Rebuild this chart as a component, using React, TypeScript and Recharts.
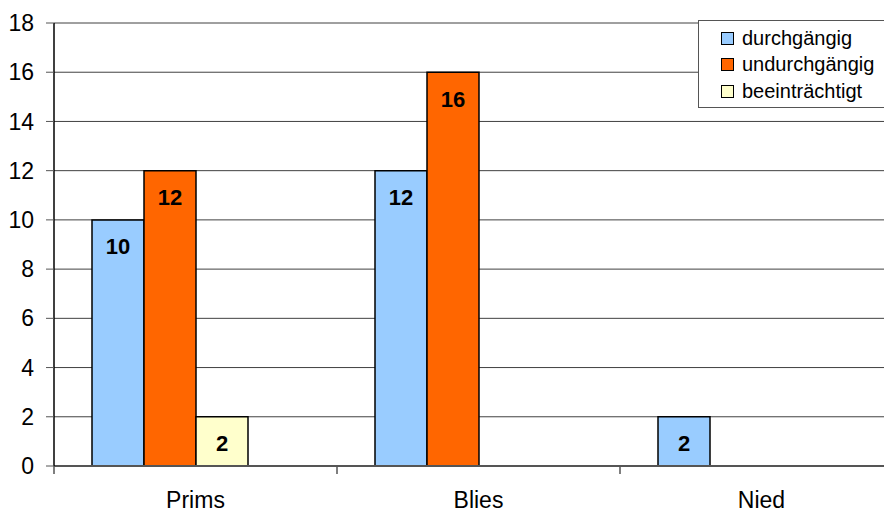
import React from "react";
import { BarChart, Bar, XAxis, YAxis, CartesianGrid, LabelList } from "recharts";

const rivers = ["Prims", "Blies", "Nied"];
const durchgaengig = [10, 12, 2];
const undurchgaengig = [12, 16, null];
const beeintraechtigt = [2, null, null];
const yTicks = [0, 2, 4, 6, 8, 10, 12, 14, 16, 18];

const data = rivers.map((name, i) => ({
  name,
  durch: durchgaengig[i],
  undurch: undurchgaengig[i],
  beein: beeintraechtigt[i],
  leer: null,
}));

const font = "'Liberation Sans', Arial, sans-serif";
const band = 283;

const ValueLabel = (props: any) => {
  const { x, y, width, value } = props;
  if (value == null) return null;
  return (
    <text x={x + width / 2} y={y + 27} textAnchor="middle" dominantBaseline="central"
      fontFamily={font} fontWeight="bold" fontSize={22} fill="#000">{value}</text>
  );
};

// tick y from recharts already includes tickSize + tickMargin (8px)
const CatTick = (props: any) => {
  const { x, y, payload } = props;
  const axisY = y - 8;
  return (
    <g>
      <line x1={x - band / 2} x2={x - band / 2} y1={axisY} y2={axisY + 8} stroke="#555" strokeWidth={1.5} />
      <text x={x} y={axisY + 34} textAnchor="middle" dominantBaseline="central"
        fontFamily={font} fontSize={23} fill="#000">{payload.value}</text>
    </g>
  );
};

const legendItems = [
  { label: "durchgängig", color: "#99CCFF" },
  { label: "undurchgängig", color: "#FF6600" },
  { label: "beeinträchtigt", color: "#FFFFCC" },
];

const LegendBox = () => (
  <div style={{ position: "absolute", left: 698, top: 20, border: "1.5px solid #555", background: "#fff", width: 194, height: 88, boxSizing: "border-box", padding: "4px 0 0 22px", fontFamily: font, fontSize: 20 }}>
    {legendItems.map((it) => (
      <div key={it.label} style={{ display: "flex", alignItems: "center", height: 26.5 }}>
        <span style={{ display: "inline-block", width: 11, height: 11, background: it.color, border: "1.5px solid #000", marginRight: 8 }} />
        <span>{it.label}</span>
      </div>
    ))}
  </div>
);

export default function App() {
  return (
    <div style={{ margin: -8, position: "relative", width: 892, height: 516, overflow: "hidden", background: "#fff" }}>
      <BarChart width={920} height={516} data={data} margin={{ top: 23, right: 17, left: 0, bottom: 0 }} barSize={52} barGap={0}>
        <CartesianGrid vertical={false} stroke="#404040" strokeWidth={1} />
        <XAxis dataKey="name" height={50} axisLine={{ stroke: "#555", strokeWidth: 2 }} tickLine={false} tick={<CatTick />} interval={0} />
        <YAxis width={54} domain={[0, 18]} ticks={yTicks} interval={0} axisLine={{ stroke: "#000", strokeWidth: 1.5 }}
          tickLine={{ stroke: "#555" }} tickSize={8} tickMargin={12}
          tick={{ fontFamily: font, fontSize: 23, fill: "#000" }} />
        <Bar dataKey="durch" name="durchgängig" fill="#99CCFF" stroke="#000" strokeWidth={1.5} isAnimationActive={false}>
          <LabelList dataKey="durch" content={<ValueLabel />} />
        </Bar>
        <Bar dataKey="undurch" name="undurchgängig" fill="#FF6600" stroke="#000" strokeWidth={1.5} isAnimationActive={false}>
          <LabelList dataKey="undurch" content={<ValueLabel />} />
        </Bar>
        <Bar dataKey="beein" name="beeinträchtigt" fill="#FFFFCC" stroke="#000" strokeWidth={1.5} isAnimationActive={false}>
          <LabelList dataKey="beein" content={<ValueLabel />} />
        </Bar>
        <Bar dataKey="leer" legendType="none" fill="none" isAnimationActive={false} />
      </BarChart>
      <LegendBox />
    </div>
  );
}
